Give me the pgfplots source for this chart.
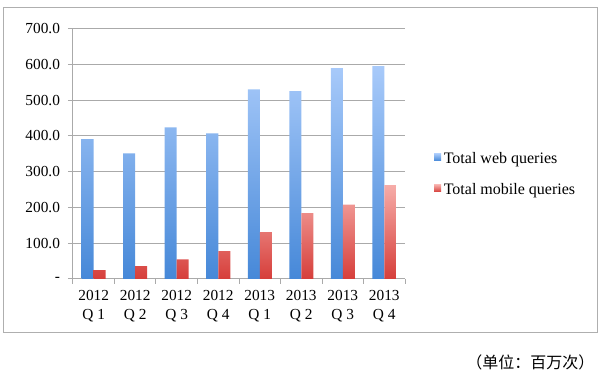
\documentclass[border=0pt]{standalone}
\usepackage{pgfplots}
\pgfplotsset{compat=1.18}
\usepackage{fontspec}
\setmainfont{Liberation Serif}
\newfontfamily\cjk{Noto Sans CJK SC}
\definecolor{gridgray}{RGB}{170,170,170}
\definecolor{framegray}{RGB}{175,175,175}
\definecolor{webtop}{RGB}{168,202,250}
\definecolor{webbot}{RGB}{70,136,216}
\definecolor{mobtop}{RGB}{246,172,168}
\definecolor{mobbot}{RGB}{214,62,58}
\begin{document}
\begin{tikzpicture}
\useasboundingbox (0,0) rectangle (450pt,283.5pt);
\begin{axis}[
  at={(54.75pt,74.25pt)}, anchor=south west,
  scale only axis, width=249pt, height=187.9pt,
  xmin=-0.5, xmax=7.5, ymin=0, ymax=700,
  ybar=0pt, bar width=9pt,
  axis x line*=bottom, axis y line*=left,
  axis line style={gridgray, line width=0.75pt},
  tick style={gridgray, line width=0.75pt},
  tick align=outside, major tick length=3.75pt,
  xtick={-0.5,0.5,...,7.5}, xticklabels={},
  extra x ticks={0,1,...,7},
  extra x tick labels={{2012\\Q 1},{2012\\Q 2},{2012\\Q 3},{2012\\Q 4},{2013\\Q 1},{2013\\Q 2},{2013\\Q 3},{2013\\Q 4}},
  extra x tick style={major tick length=0pt, tick style={draw=none},
    xticklabel style={align=center, font=\fontsize{11.5}{14.5}\selectfont, yshift=-5pt}},
  ytick={0,100,...,700},
  yticklabels={-,100.0,200.0,300.0,400.0,500.0,600.0,700.0},
  yticklabel style={font=\fontsize{11.5}{13}\selectfont, xshift=-2.5pt},
  ymajorgrids, grid style={gridgray, line width=0.75pt},
  legend style={draw=none, fill=none, at={(1.087,0.418)}, anchor=west,
    inner sep=0pt, row sep=9.5pt, font=\fontsize{12}{13}\selectfont,
    /tikz/every even column/.append style={column sep=0pt}},
  legend cell align=left,
  legend image code/.code={\fill[#1] (0pt,-1.5pt) rectangle (5.25pt,3.75pt);},
]
\addplot[draw=none, top color=webtop, bottom color=webbot] coordinates {
  (0,391) (1,351) (2,424) (3,407) (4,530) (5,525) (6,589) (7,595)};
\addplot[draw=none, top color=mobtop, bottom color=mobbot] coordinates {
  (0,25) (1,36) (2,55) (3,78) (4,131) (5,184) (6,208) (7,262)};
\legend{Total web queries, Total mobile queries}
\end{axis}
\draw[framegray, line width=0.75pt] (2.25pt,33.75pt) rectangle (447.75pt,277.5pt);
\node[anchor=east, inner sep=0pt, font=\cjk\fontsize{12}{14}\selectfont] at (446pt,12pt) {（单位：百万次）};
\end{tikzpicture}
\end{document}
